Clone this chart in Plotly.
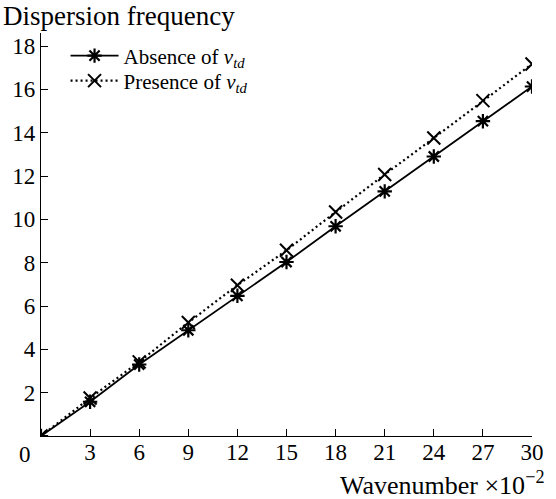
import plotly.graph_objects as go

wavenumber = [0, 3, 6, 9, 12, 15, 18, 21, 24, 27, 30]
absence_vtd = [0, 1.58, 3.30, 4.88, 6.47, 8.03, 9.68, 11.29, 12.90, 14.53, 16.13]
presence_vtd = [0, 1.75, 3.42, 5.24, 6.96, 8.57, 10.34, 12.07, 13.75, 15.48, 17.17]
x_ticks = [3, 6, 9, 12, 15, 18, 21, 24, 27, 30]
y_ticks = [2, 4, 6, 8, 10, 12, 14, 16, 18]

FONT = "Liberation Serif"
TICK_FS = 23

fig = go.Figure()
fig.add_trace(go.Scatter(
    x=wavenumber, y=absence_vtd, mode="lines+markers",
    name="Absence of <i>v<sub>td</sub></i>", legend="legend",
    line=dict(color="black", width=1.8),
    marker=dict(symbol="asterisk-open", size=12, line=dict(color="black", width=2.2)),
))
fig.add_trace(go.Scatter(
    x=wavenumber, y=presence_vtd, mode="lines+markers",
    name="Presence of <i>v<sub>td</sub></i>", legend="legend2",
    line=dict(color="black", width=2.2, dash="2px,3px"),
    marker=dict(symbol="x-thin-open", size=13, line=dict(color="black", width=2)),
))

leg_common = dict(xanchor="left", yanchor="middle", bgcolor="rgba(0,0,0,0)",
                  font=dict(family=FONT, size=21), itemwidth=48)

fig.update_layout(
    width=556, height=499,
    margin=dict(l=41, r=14, t=33, b=63),
    paper_bgcolor="white", plot_bgcolor="white",
    font=dict(family=FONT, size=TICK_FS, color="black"),
    showlegend=True,
    legend=dict(x=0.05, y=(436 - 56) / 403, **leg_common),
    legend2=dict(x=0.05, y=(436 - 81) / 403, **leg_common),
    xaxis=dict(range=[0, 30], tickvals=x_ticks, ticks="inside", ticklen=7,
               showline=True, linecolor="black", linewidth=1.3, tickcolor="black",
               showgrid=False, zeroline=False, tickfont=dict(size=TICK_FS),
               ticklabelstandoff=-5),
    yaxis=dict(range=[0, 18.6], tickvals=y_ticks, ticks="inside", ticklen=7,
               showline=True, linecolor="black", linewidth=1.3, tickcolor="black",
               showgrid=False, zeroline=False, tickfont=dict(size=TICK_FS)),
    annotations=[
        dict(text="Dispersion frequency", xref="paper", yref="paper", x=-41/501, y=1.0,
             xanchor="left", yanchor="bottom", yshift=0, showarrow=False,
             font=dict(size=27)),
        dict(text="Wavenumber ×10<sup>−2</sup>", xref="paper", yref="paper", x=1 + 14/501, y=0,
             xanchor="right", yanchor="top", yshift=-29, showarrow=False,
             font=dict(size=26)),
        dict(text="0", xref="paper", yref="paper", x=-16/501, y=0,
             xanchor="center", yanchor="top", yshift=-4, showarrow=False,
             font=dict(size=TICK_FS)),
    ],
)

fig.write_html("out.html")
